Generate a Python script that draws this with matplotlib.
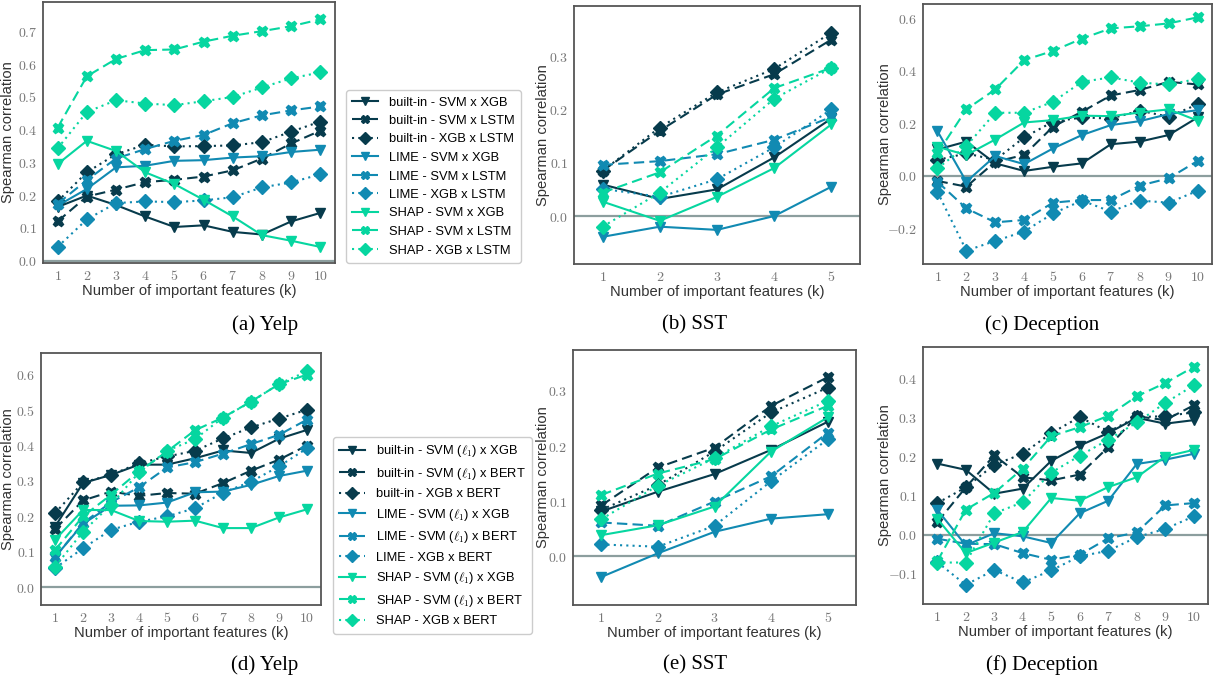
import numpy as np
import matplotlib
matplotlib.use("Agg")
import matplotlib.pyplot as plt
from matplotlib.ticker import FuncFormatter, MultipleLocator

plt.rcParams['mathtext.fontset'] = 'cm'
plt.rcParams['font.family'] = ['Liberation Sans', 'DejaVu Sans']

# colours per explanation method
DARK, MID, GREEN = '#073B4C', '#118AB2', '#06D6A0'

k10 = np.arange(1, 11)
k5 = np.arange(1, 6)

labels_top = ['built-in - SVM x XGB', 'built-in - SVM x LSTM', 'built-in - XGB x LSTM',
              'LIME - SVM x XGB', 'LIME - SVM x LSTM', 'LIME - XGB x LSTM',
              'SHAP - SVM x XGB', 'SHAP - SVM x LSTM', 'SHAP - XGB x LSTM']
labels_bottom = [r'built-in - SVM ($\ell_1$) x XGB', r'built-in - SVM ($\ell_1$) x BERT', 'built-in - XGB x BERT',
                 r'LIME - SVM ($\ell_1$) x XGB', r'LIME - SVM ($\ell_1$) x BERT', 'LIME - XGB x BERT',
                 r'SHAP - SVM ($\ell_1$) x XGB', r'SHAP - SVM ($\ell_1$) x BERT', 'SHAP - XGB x BERT']

# (a) Yelp
yelp_a = [
    [0.164, 0.199, 0.170, 0.135, 0.103, 0.108, 0.088, 0.080, 0.120, 0.146],
    [0.120, 0.196, 0.217, 0.240, 0.247, 0.257, 0.276, 0.312, 0.358, 0.397],
    [0.181, 0.270, 0.325, 0.354, 0.349, 0.350, 0.352, 0.362, 0.394, 0.425],
    [0.168, 0.219, 0.285, 0.290, 0.305, 0.307, 0.315, 0.319, 0.332, 0.339],
    [0.174, 0.246, 0.312, 0.341, 0.366, 0.384, 0.420, 0.444, 0.459, 0.471],
    [0.042, 0.126, 0.176, 0.181, 0.179, 0.184, 0.194, 0.224, 0.239, 0.264],
    [0.295, 0.366, 0.335, 0.270, 0.234, 0.186, 0.135, 0.078, 0.061, 0.042],
    [0.406, 0.563, 0.616, 0.643, 0.645, 0.669, 0.687, 0.701, 0.716, 0.737],
    [0.343, 0.454, 0.490, 0.480, 0.475, 0.487, 0.500, 0.529, 0.557, 0.575],
]
# (b) SST
sst_b = [
    [0.059, 0.032, 0.050, 0.110, 0.183],
    [0.085, 0.160, 0.228, 0.266, 0.331],
    [0.085, 0.166, 0.232, 0.276, 0.344],
    [-0.039, -0.020, -0.026, 0.000, 0.055],
    [0.096, 0.103, 0.116, 0.143, 0.186],
    [0.051, 0.036, 0.069, 0.129, 0.200],
    [0.027, -0.009, 0.036, 0.090, 0.172],
    [0.044, 0.082, 0.151, 0.240, 0.278],
    [-0.020, 0.044, 0.129, 0.220, 0.278],
]
# (c) Deception
dec_c = [
    [0.100, 0.130, 0.047, 0.018, 0.034, 0.047, 0.120, 0.130, 0.155, 0.222],
    [-0.020, -0.042, 0.053, 0.079, 0.187, 0.244, 0.306, 0.327, 0.358, 0.348],
    [0.060, 0.085, 0.060, 0.146, 0.206, 0.222, 0.218, 0.248, 0.225, 0.272],
    [0.170, -0.023, 0.075, 0.044, 0.104, 0.155, 0.193, 0.208, 0.235, 0.250],
    [-0.023, -0.125, -0.178, -0.169, -0.103, -0.093, -0.093, -0.038, -0.010, 0.056],
    [-0.062, -0.286, -0.249, -0.213, -0.144, -0.095, -0.137, -0.095, -0.103, -0.058],
    [0.110, 0.079, 0.138, 0.203, 0.212, 0.229, 0.227, 0.241, 0.253, 0.210],
    [0.085, 0.253, 0.329, 0.441, 0.476, 0.523, 0.562, 0.570, 0.581, 0.604],
    [0.028, 0.113, 0.240, 0.240, 0.282, 0.358, 0.375, 0.355, 0.348, 0.369],
]
# (d) Yelp
yelp_d = [
    [0.171, 0.294, 0.317, 0.346, 0.346, 0.364, 0.386, 0.379, 0.419, 0.444],
    [0.164, 0.245, 0.270, 0.258, 0.266, 0.264, 0.294, 0.329, 0.360, 0.400],
    [0.209, 0.296, 0.317, 0.350, 0.369, 0.385, 0.420, 0.451, 0.476, 0.501],
    [0.085, 0.179, 0.230, 0.231, 0.239, 0.268, 0.270, 0.289, 0.314, 0.329],
    [0.085, 0.181, 0.240, 0.282, 0.338, 0.353, 0.377, 0.404, 0.430, 0.473],
    [0.054, 0.110, 0.162, 0.185, 0.200, 0.223, 0.267, 0.298, 0.341, 0.392],
    [0.134, 0.218, 0.218, 0.187, 0.185, 0.188, 0.167, 0.167, 0.197, 0.220],
    [0.105, 0.200, 0.261, 0.327, 0.383, 0.443, 0.479, 0.524, 0.573, 0.600],
    [0.058, 0.157, 0.233, 0.324, 0.385, 0.418, 0.479, 0.523, 0.574, 0.609],
]
# (e) SST
sst_e = [
    [0.081, 0.117, 0.149, 0.193, 0.244],
    [0.092, 0.161, 0.197, 0.273, 0.325],
    [0.084, 0.129, 0.190, 0.261, 0.306],
    [-0.038, 0.005, 0.044, 0.068, 0.076],
    [0.061, 0.055, 0.099, 0.145, 0.224],
    [0.021, 0.017, 0.055, 0.136, 0.212],
    [0.038, 0.056, 0.090, 0.190, 0.252],
    [0.111, 0.150, 0.176, 0.230, 0.273],
    [0.067, 0.128, 0.178, 0.236, 0.282],
]
# (f) Deception
dec_f = [
    [0.182, 0.166, 0.105, 0.118, 0.189, 0.228, 0.260, 0.299, 0.284, 0.293],
    [0.032, 0.121, 0.203, 0.147, 0.139, 0.154, 0.224, 0.303, 0.293, 0.331],
    [0.081, 0.121, 0.179, 0.207, 0.260, 0.301, 0.263, 0.301, 0.303, 0.313],
    [0.064, -0.027, 0.004, -0.004, -0.021, 0.055, 0.087, 0.181, 0.192, 0.207],
    [-0.010, -0.023, -0.024, -0.047, -0.064, -0.051, -0.009, 0.006, 0.075, 0.081],
    [-0.070, -0.128, -0.090, -0.122, -0.091, -0.055, -0.041, -0.006, 0.015, 0.047],
    [0.041, -0.047, -0.020, 0.007, 0.094, 0.087, 0.122, 0.147, 0.200, 0.217],
    [-0.068, 0.064, 0.107, 0.169, 0.252, 0.275, 0.304, 0.354, 0.388, 0.429],
    [-0.071, -0.071, 0.055, 0.083, 0.159, 0.202, 0.243, 0.287, 0.337, 0.382],
]

colors = [DARK] * 3 + [MID] * 3 + [GREEN] * 3
styles = ['-', (0, (5, 2.5)), (0, (1, 2))] * 3
markers = ['v', 'X', 'D'] * 3

W, H = 1213, 684
fig = plt.figure(figsize=(W / 100, H / 100), dpi=100)


def add_axes(l, t, r, b):
    return fig.add_axes([l / W, 1 - b / H, (r - l) / W, (b - t) / H])


def panel(ax, x, data, ylim, ystep, labels, ylab_x):
    ax.axhline(0, color='#8c9e9e', lw=1.6, zorder=1)
    lines = []
    for i, ys in enumerate(data):
        ln, = ax.plot(x, ys, color=colors[i], ls=styles[i], marker=markers[i],
                      ms=7.5, lw=1.5, label=labels[i], zorder=3)
        lines.append(ln)
    ax.set_xlim(0.5, len(x) + 0.5)
    ax.set_ylim(*ylim)
    ax.set_xticks(x)
    ax.yaxis.set_major_locator(MultipleLocator(ystep))
    ax.xaxis.set_major_formatter(FuncFormatter(lambda v, p: r'$%d$' % v))
    ax.yaxis.set_major_formatter(FuncFormatter(lambda v, p: r'$%.1f$' % v if abs(v) > 1e-9 else r'$0.0$'))
    ax.tick_params(length=0, labelsize=10, labelcolor='#777777', pad=4)
    for s in ax.spines.values():
        s.set_color('#555555')
        s.set_linewidth(1.3)
    ax.set_xlabel('Number of important features (k)', fontsize=10.6, color='#333333', labelpad=1)
    ax.set_ylabel('Spearman correlation', fontsize=10.6, color='#333333')
    # y label: right edge at the pixel column seen in the reference
    bb = ax.get_position()
    ax.yaxis.set_label_coords((ylab_x / W - bb.x0) / bb.width, 0.5)
    return lines


ax_a = add_axes(43, 2, 335, 263)
ax_b = add_axes(574, 6, 860, 264)
ax_c = add_axes(923, 4, 1212, 264)
ax_d = add_axes(41, 353, 321, 605)
ax_e = add_axes(573, 350, 856, 605)
ax_f = add_axes(923, 347, 1208, 604)

h_top = panel(ax_a, k10, yelp_a, (-0.007, 0.79), 0.1, labels_top, 15)
panel(ax_b, k5, sst_b, (-0.09, 0.394), 0.1, labels_top, 550)
panel(ax_c, k10, dec_c, (-0.337, 0.655), 0.2, labels_top, 892)
h_bot = panel(ax_d, k10, yelp_d, (-0.05, 0.661), 0.1, labels_bottom, 15)
panel(ax_e, k5, sst_e, (-0.089, 0.3745), 0.1, labels_bottom, 550)
panel(ax_f, k10, dec_f, (-0.177, 0.48), 0.1, labels_bottom, 892)

leg_kw = dict(loc='upper left', fontsize=9.3, markerscale=0.75, handlelength=2.0,
              labelspacing=0.5, handletextpad=0.8, borderpad=0.5, borderaxespad=0,
              frameon=True, fancybox=True, edgecolor='#cccccc', framealpha=1)
fig.legend(handles=h_top, bbox_to_anchor=(346 / W, 1 - 90 / H), **leg_kw)
fig.legend(handles=h_bot, bbox_to_anchor=(333 / W, 1 - 437 / H), **leg_kw)

captions = [('(a) Yelp', 265, 325), ('(b) SST', 695, 325), ('(c) Deception', 1042, 325),
            ('(d) Yelp', 265, 665), ('(e) SST', 695, 665), ('(f) Deception', 1042, 665)]
for txt, cx, cy in captions:
    fig.text(cx / W, 1 - cy / H, txt, ha='center', va='center', fontsize=15,
             family='Liberation Serif', color='black')

fig.savefig('out.png', dpi=100)
